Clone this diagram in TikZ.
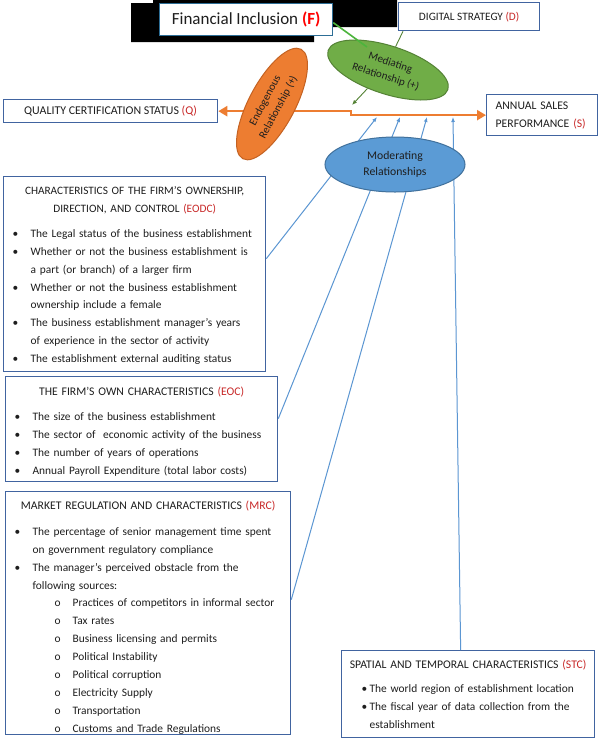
\documentclass[tikz,border=0pt]{standalone}
\usepackage{fontspec}
\setmainfont{Carlito}
\usetikzlibrary{arrows.meta,shapes.geometric}

\definecolor{boxblue}{RGB}{65,100,160}
\definecolor{fblue}{RGB}{45,110,150}
\definecolor{tagred}{RGB}{200,40,40}
\definecolor{textdark}{RGB}{30,30,30}
\definecolor{orangeC}{RGB}{237,125,49}
\definecolor{orangeB}{RGB}{196,98,34}
\definecolor{greenC}{RGB}{112,173,71}
\definecolor{greenB}{RGB}{84,130,53}
\definecolor{brightgreen}{RGB}{76,180,60}
\definecolor{blueC}{RGB}{91,155,213}
\definecolor{blueB}{RGB}{65,113,156}
\definecolor{lineblue}{RGB}{91,150,210}

\hyphenpenalty=10000
\exhyphenpenalty=10000
\newcommand{\bodyfont}{\fontsize{11.4}{17.9}\selectfont}
\newcommand{\ellfont}{\fontsize{11}{15}\selectfont}
\newcommand{\redtag}[1]{{\color{tagred}(#1)}}
\newcommand{\hdr}[1]{\par\noindent\makebox[\hsize]{\fontsize{11.7}{17.9}\selectfont#1}}
\newcommand{\bul}[1]{\par\noindent\hangindent=19pt\hangafter=1\makebox[19pt][l]{\hspace{1pt}\textbullet}#1}
\newcommand{\nearbul}[1]{\par\noindent\hangindent=20pt\hangafter=1\hspace*{12pt}\makebox[8pt][l]{\textbullet}#1}
\newcommand{\subbul}[1]{\par\noindent\hspace*{41pt}\makebox[18pt][l]{o}#1}

\begin{document}
\begin{tikzpicture}[x=1pt,y=-1pt,
	box/.style={draw=boxblue,line width=1.3pt,fill=white,anchor=north west,inner xsep=8pt,inner ysep=0pt,align=left,text=textdark,font=\bodyfont},
	ell/.style={ellipse,inner sep=0pt,align=center,text=textdark,line width=1pt,font=\ellfont},
	oline/.style={draw=orangeC,line width=2.6pt,{Triangle[length=9pt,width=10pt]}-{Triangle[length=9pt,width=10pt]}},
	bline/.style={draw=lineblue,line width=1pt,-{Latex[length=5pt,width=4pt]}},
	gline/.style={draw=greenB,line width=0.9pt}]
	\useasboundingbox[fill=white] (0,0) rectangle (600,740);
	%Top line
		%Black patch behind financial inclusion
		\fill[black] (131,3) -- (153,3) -- (153,0) -- (397,0) -- (397,27) -- (314,27) -- (314,42) -- (131,42) -- cycle;
		%Financial inclusion
		\node[box,draw=fblue,minimum width=173pt,minimum height=32pt,align=center,font=\fontsize{17}{20}\selectfont] (f) at (159,3) {Financial Inclusion \textbf{\color{red}(F)}};
		%Digital strategy
		\node[box,minimum width=141pt,minimum height=28pt,align=center,font=\fontsize{11.3}{14}\selectfont] (d) at (398,2) {DIGITAL STRATEGY \redtag{D}};
		%Quality certification
		\node[box,minimum width=214pt,minimum height=23pt,align=center,font=\fontsize{11.9}{14}\selectfont] (q) at (3,99) {QUALITY CERTIFICATION STATUS \redtag{Q}};
		%Annual sales
		\node[box,inner xsep=9pt,text width=93pt,minimum height=41pt,font=\fontsize{11.7}{17.9}\selectfont] (s) at (486,94) {ANNUAL SALES\\PERFORMANCE \redtag{S}};
	%Left boxes
		%Ownership, direction and control
		\node[box,text width=246pt,minimum height=195pt] (eodc) at (3,176) {%
			\hdr{\fontsize{11.3}{17.9}\selectfont CHARACTERISTICS OF THE FIRM’S OWNERSHIP,}
			\hdr{\fontsize{11.3}{17.9}\selectfont DIRECTION, AND CONTROL \redtag{EODC}}
			\par\vspace{7pt}
			\bul{The Legal status of the business establishment}
			\bul{Whether or not the business establishment is\newline a part (or branch) of a larger firm}
			\bul{Whether or not the business establishment\newline ownership include a female}
			\bul{The business establishment manager’s years\newline of experience in the sector of activity}
			\bul{The establishment external auditing status}
			\par\vspace*{7pt}};
		%Own characteristics
		\node[box,text width=256pt,minimum height=105pt] (eoc) at (5,376) {%
			\hdr{THE FIRM’S OWN CHARACTERISTICS \redtag{EOC}}
			\par\vspace{7pt}
			\bul{The size of the business establishment}
			\bul{The sector of\ \ economic activity of the business}
			\bul{The number of years of operations}
			\bul{Annual Payroll Expenditure (total labor costs)}
			\par\vspace*{4pt}};
		%Market regulation
		\node[box,text width=269pt,minimum height=243pt] (mrc) at (5,491) {%
			\hdr{MARKET REGULATION AND CHARACTERISTICS \redtag{MRC}}
			\par\vspace{7.5pt}
			\bul{The percentage of senior management time spent\newline on government regulatory compliance}
			\bul{The manager’s perceived obstacle from the\newline following sources:}
			\subbul{Practices of competitors in informal sector}
			\subbul{Tax rates}
			\subbul{Business licensing and permits}
			\subbul{Political Instability}
			\subbul{Political corruption}
			\subbul{Electricity Supply}
			\subbul{Transportation}
			\subbul{Customs and Trade Regulations}
			\par};
		%Spatial and temporal
		\node[box,text width=237pt,minimum height=87pt] (stc) at (341,650) {%
			\hdr{SPATIAL AND TEMPORAL CHARACTERISTICS \redtag{STC}}
			\par\vspace{6pt}
			\nearbul{The world region of establishment location}
			\nearbul{The fiscal year of data collection from the\newline establishment}
			\par\vspace*{9pt}};
	%Main line with arrows to Q and S
		\coordinate (step) at (351,109);
		\draw[oline] (q.east) -- (step |- q.east) -- (step |- s.west) -- (s.west);
	%Moderating arrows
		\coordinate (t1) at (377,117);
		\coordinate (t2) at (400,117);
		\coordinate (t3) at (427,117);
		\coordinate (t4) at (453,117);
		\draw[bline] ([yshift=15.5pt]eodc.east) -- (t1);
		\draw[bline] ([yshift=10.5pt]eoc.east) -- (t2);
		\draw[bline] ([yshift=13.5pt]mrc.east) -- (t3);
		\draw[bline] ([xshift=-7.5pt]stc.north) -- (t4);
	%Ellipses
		\node[ell,fill=blueC,draw=blueB,minimum width=140pt,minimum height=55pt,font=\fontsize{11.7}{16}\selectfont] (mod) at (395,164.5) {Moderating\\Relationships};
		\node[ell,fill=greenC,draw=greenB,minimum width=126pt,minimum height=48pt,rotate=-18] (med) at (388,70) {Mediating\\Relationship (+)};
		\node[ell,fill=orangeC,draw=orangeB,minimum width=124pt,minimum height=46pt,rotate=62] (endo) at (272,104) {Endogenous\\Relationship (+)};
	%Mediating links
		\coordinate (medin) at (367,47);
		\coordinate (medtip) at (352,105);
		\draw[draw=brightgreen,line width=1.6pt] ([yshift=-3pt]f.east) -- (medin);
		\draw[gline] ([xshift=5pt]d.south west) -- (med.north);
		\draw[gline,-{Latex[length=5pt,width=4pt]}] (med.240) -- (medtip);
\end{tikzpicture}
\end{document}
